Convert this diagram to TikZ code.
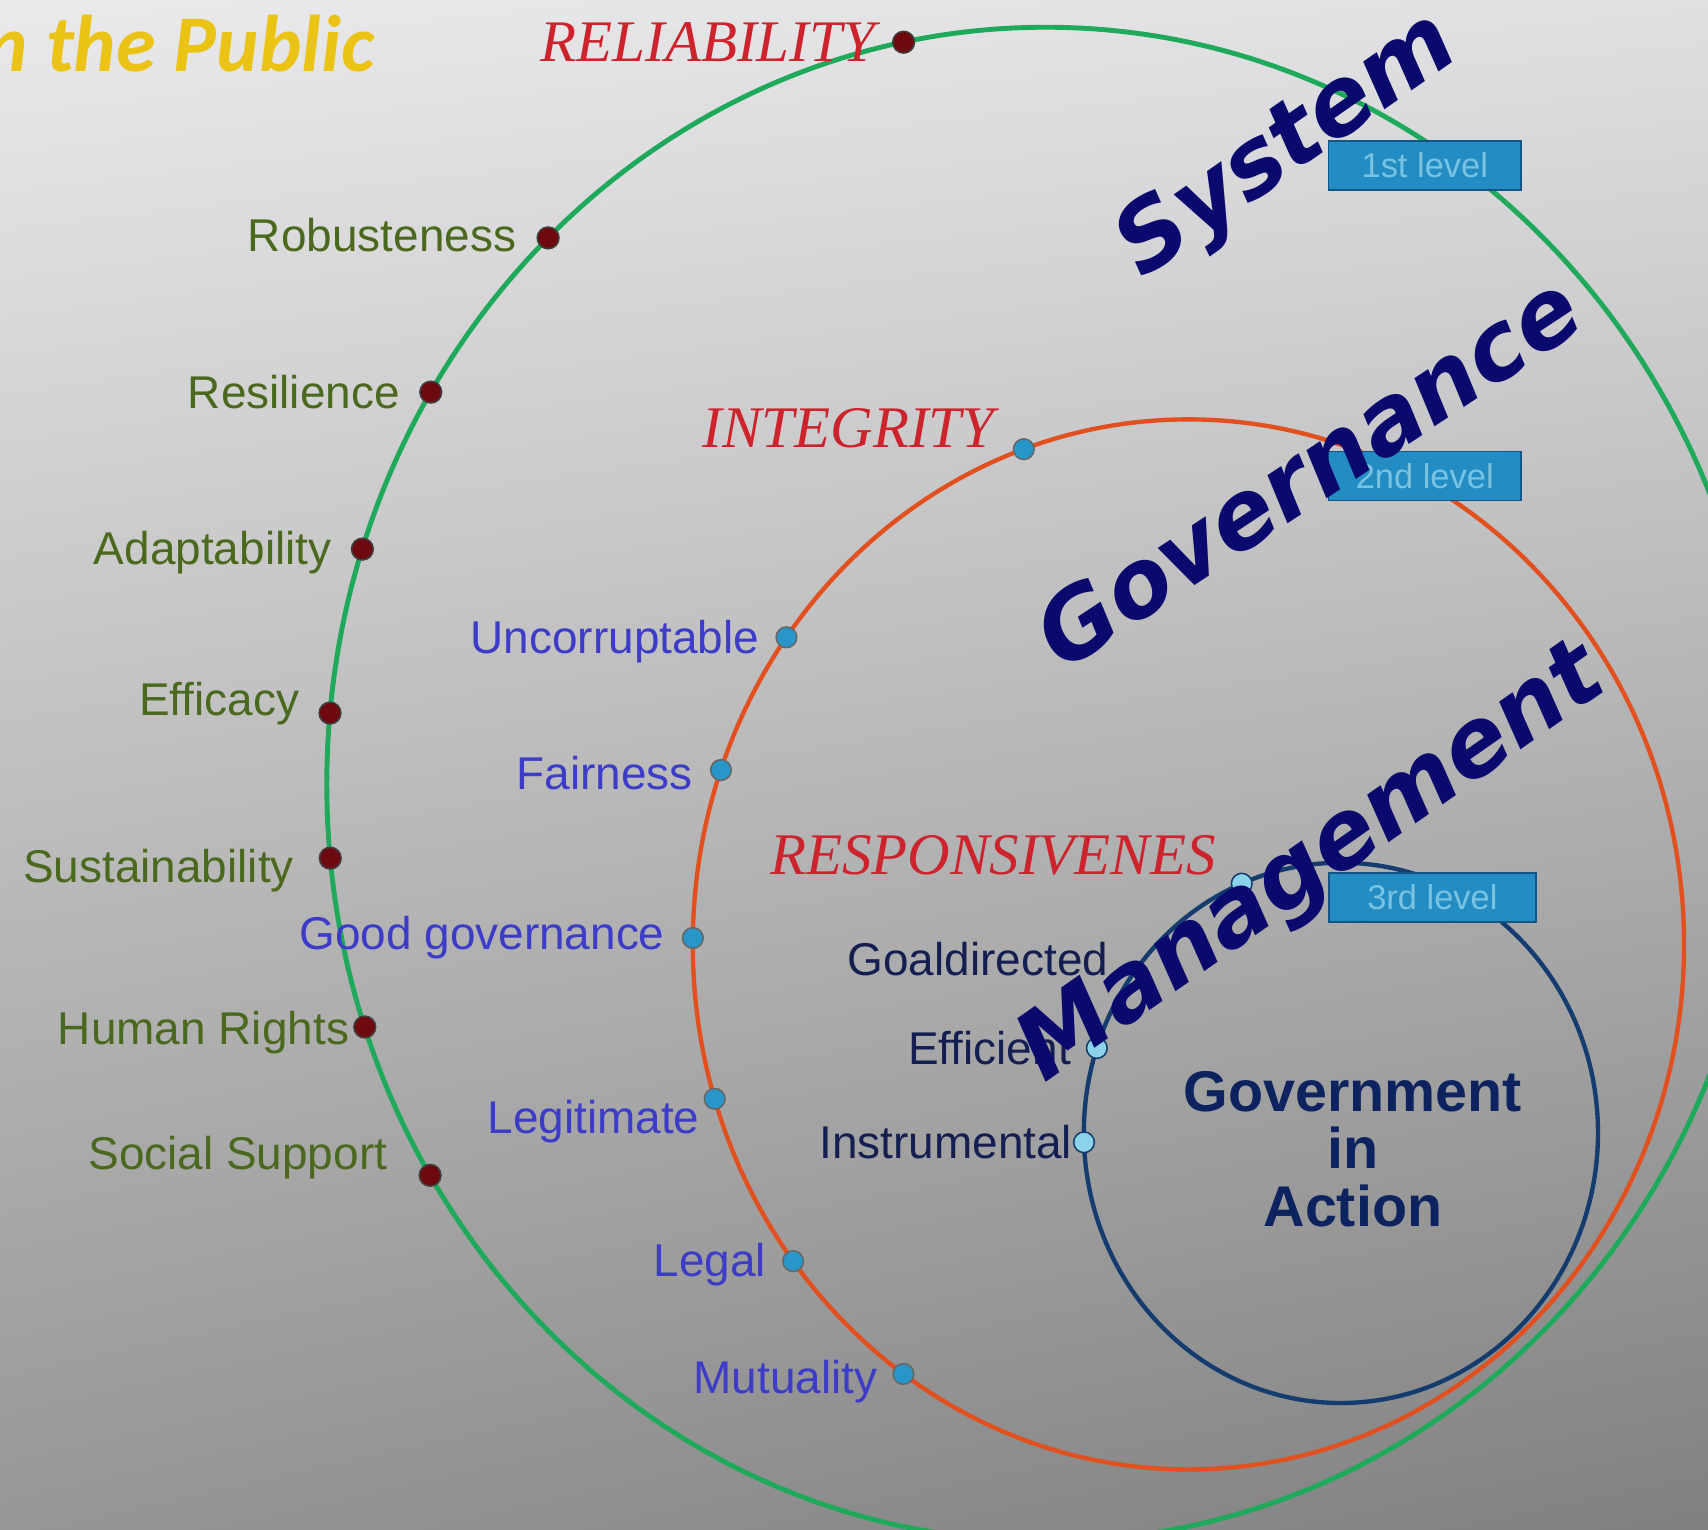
\documentclass[tikz,border=0pt]{standalone}
\usepackage{fontspec}
\setmainfont{Liberation Sans}
\newfontfamily\serifcaps{Liberation Serif}
\newfontfamily\bigsans{DejaVu Sans}
\newfontfamily\titlesans{Carlito}
\usepackage{tikz}
\usetikzlibrary{positioning}
\usetikzlibrary{calc}
\usetikzlibrary{shadings}

\definecolor{ringgreen}{RGB}{30,170,90}
\definecolor{ringorange}{RGB}{225,80,30}
\definecolor{ringblue}{RGB}{20,60,110}
\definecolor{olivetext}{RGB}{75,105,30}
\definecolor{violettext}{RGB}{60,60,200}
\definecolor{navytext}{RGB}{20,30,80}
\definecolor{govblue}{RGB}{12,35,95}
\definecolor{bigblue}{RGB}{10,10,110}
\definecolor{redtext}{RGB}{205,35,45}
\definecolor{boxfill}{RGB}{35,140,195}
\definecolor{boxedge}{RGB}{20,85,135}
\definecolor{boxtext}{RGB}{120,195,225}
\definecolor{dotred}{RGB}{110,10,15}
\definecolor{dotblue}{RGB}{40,150,200}
\definecolor{dotlight}{RGB}{140,210,235}
\definecolor{gold}{RGB}{235,195,20}
\definecolor{bgul}{RGB}{234,234,236}
\definecolor{bgur}{RGB}{224,224,226}
\definecolor{bgll}{RGB}{150,150,150}
\definecolor{bglr}{RGB}{128,128,128}

\begin{document}
\begin{tikzpicture}[x=0.1mm, y=-0.1mm,
    gdot/.style = {draw=black!75, circle, fill=dotred, inner sep=0pt, minimum size=2mm},
    odot/.style = {draw=black!60, circle, fill=dotblue, inner sep=0pt, minimum size=1.9mm},
    bdot/.style = {draw=ringblue, circle, fill=dotlight, inner sep=0pt, minimum size=1.9mm},
    glabel/.style = {inner sep=0pt, text=olivetext, font=\fontsize{12}{14}\selectfont},
    olabel/.style = {inner sep=0pt, text=violettext, font=\fontsize{12}{14}\selectfont},
    blabel/.style = {inner sep=0pt, text=navytext, font=\fontsize{12}{14}\selectfont},
    value/.style = {inner sep=0pt, text=redtext, font=\serifcaps\itshape\fontsize{15.4}{17}\selectfont},
    bigword/.style = {inner sep=0pt, text=bigblue, font=\bigsans\bfseries\itshape\fontsize{24.5}{26}\selectfont},
    levelbox/.style = {draw=boxedge, fill=boxfill, text=boxtext, inner sep=0pt,
        minimum width=17.7mm, minimum height=4.5mm, font=\fontsize{9}{10}\selectfont}]

    \clip (0,0) rectangle (1568,1404);
    \shade[upper left=bgul, upper right=bgur, lower left=bgll, lower right=bglr]
        (0,0) rectangle (1568,1404);

    % ring centres
    \coordinate (G) at (960,720);
    \coordinate (O) at (1091,867);
    \coordinate (B) at (1231,1040);

    \draw[ringgreen, line width=0.45mm] (G) ellipse [x radius=660, y radius=695];
    \draw[ringorange, line width=0.4mm] (O) ellipse [x radius=455, y radius=482];
    \draw[ringblue, line width=0.4mm] (B) ellipse [x radius=236, y radius=248];

    \node[levelbox] (lv1) at (1308,152) {1st level};
    \node[levelbox] (lv2) at (1308,437) {2nd level};
    \node[levelbox, minimum width=19mm] (lv3) at (1315,824) {3rd level};

    % system ring
    \node[gdot] (rel) at ($(G)+(-101.4:660 and 695)$) {};
    \node[gdot] (rob) at ($(G)+(-133.8:660 and 695)$) {};
    \node[gdot] (res) at ($(G)+(-148.8:660 and 695)$) {};
    \node[gdot] (ada) at ($(G)+(-161.9:660 and 695)$) {};
    \node[gdot] (eff) at ($(G)+(-174.6:660 and 695)$) {};
    \node[gdot] (sus) at ($(G)+(174.4:660 and 695)$) {};
    \node[gdot] (hum) at ($(G)+(161.3:660 and 695)$) {};
    \node[gdot] (soc) at ($(G)+(148.9:660 and 695)$) {};

    \node[value, left=1.5mm of rel] (relL) {RELIABILITY};
    \node[glabel, left=1.8mm of rob, yshift=0.3mm] (robL) {Robusteness};
    \node[glabel, left=1.7mm of res] (resL) {Resilience};
    \node[glabel, left=1.7mm of ada, yshift=-0.3mm] (adaL) {Adaptability};
    \node[glabel, left=1.7mm of eff, yshift=0.9mm] (effL) {Efficacy};
    \node[glabel, left=2.2mm of sus, yshift=-1.1mm] (susL) {Sustainability};
    \node[glabel, left=0.3mm of hum, yshift=-0.5mm] (humL) {Human Rights};
    \node[glabel, left=2.8mm of soc, yshift=1.6mm] (socL) {Social Support};

    % governance ring
    \node[odot] (int) at ($(O)+(-109.4:455 and 482)$) {};
    \node[odot] (unc) at ($(O)+(-144.2:455 and 482)$) {};
    \node[odot] (fai) at ($(O)+(-160.6:455 and 482)$) {};
    \node[odot] (goo) at ($(O)+(-179.3:455 and 482)$) {};
    \node[odot] (leg) at ($(O)+(162.9:455 and 482)$) {};
    \node[odot] (lal) at ($(O)+(142.9:455 and 482)$) {};
    \node[odot] (mut) at ($(O)+(125.1:455 and 482)$) {};

    \node[value, left=1.6mm of int, yshift=1.9mm] (intL) {INTEGRITY};
    \node[olabel, left=1.4mm of unc, yshift=-0.4mm] (uncL) {Uncorruptable};
    \node[olabel, left=1.5mm of fai, yshift=-0.3mm] (faiL) {Fairness};
    \node[olabel, left=1.5mm of goo] (gooL) {Good governance};
    \node[olabel, left=0.3mm of leg, yshift=-2.1mm] (legL) {Legitimate};
    \node[olabel, left=1.4mm of lal, yshift=-0.3mm] (lalL) {Legal};
    \node[olabel, left=1.3mm of mut, yshift=-0.7mm] (mutL) {Mutuality};

    % management ring
    \node[bdot] (rsp) at ($(B)+(-112.7:236 and 248)$) {};
    \node[bdot] (efi) at ($(B)+(-161.7:236 and 248)$) {};
    \node[bdot] (ins) at ($(B)+(178:236 and 248)$) {};

    \node[value, left=1.3mm of rsp, yshift=2.6mm] (rspL) {RESPONSIVENES};
    \node[blabel, anchor=east] (goaL) at (1018,880) {Goaldirected};
    \node[blabel, left=1.3mm of efi] (efiL) {Efficient};
    \node[blabel, left=0mm of ins] (insL) {Instrumental};

    \node[bigword, rotate=35] (sys) at (1183,135) {System};
    \node[bigword, rotate=33.5] (gov) at (1200,432) {Governance};
    \node[bigword, rotate=35] (man) at (1206,795) {Management};

    \node[align=center, text=govblue, font=\bfseries\fontsize{15}{15}\selectfont] (act)
        at (1242,1055) {Government\\in\\Action};

    \node[anchor=base west, inner sep=0pt, text=gold,
        font=\titlesans\bfseries\itshape\fontsize{21}{24}\selectfont] (title) at (-14,66) {n the Public};
\end{tikzpicture}
\end{document}
